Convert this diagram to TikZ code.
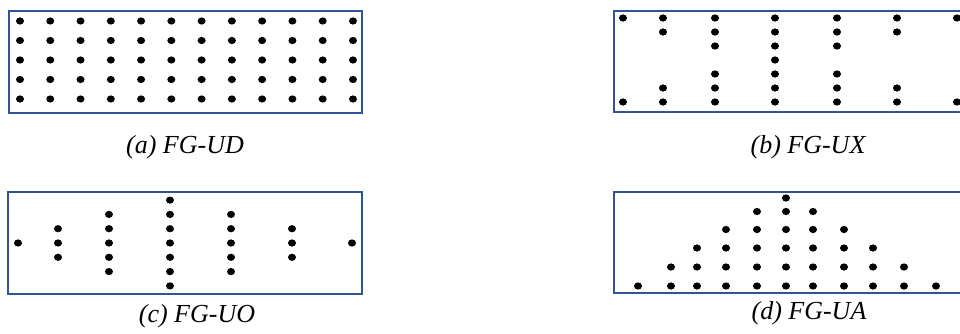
\documentclass[tikz,border=0pt]{standalone}
\usepackage{fontspec}
\setmainfont{Liberation Serif}
\definecolor{frameblue}{RGB}{47,85,151}
\newcommand{\bdot}[1]{\fill #1 ellipse [x radius=4pt, y radius=3.6pt];}

\begin{document}
\begin{tikzpicture}[x=1pt, y=-1pt,
      frm/.style={draw=frameblue, line width=2.6pt},
      capt/.style={font=\fontsize{26}{30}\selectfont\itshape, anchor=base}
    ]
    \useasboundingbox (0,0) rectangle (960,334);
    \clip (0,0) rectangle (960,334);

    % (a) uniform grid
    \draw[frm] (9,11) rectangle (362,113);
    \foreach \i in {0,...,11}
      \foreach \j in {0,...,4}
        {\bdot{({20+30.27*\i},{21+19.5*\j})}}
    \node[capt] (capa) at (185,153) {(a) FG-UD};

    % (b) X shape
    \draw[frm] (614,11) rectangle (980,112);
    \foreach \x/\rws in {623/{0,6}, 663/{0,1,5,6}, 715/{0,1,2,4,5,6},
                         775/{0,1,2,3,4,5,6}, 837/{0,1,2,4,5,6},
                         897/{0,1,5,6}, 957/{0,6}}
      \foreach \k in \rws
        {\bdot{(\x,{18+14*\k})}}
    \node[capt] (capb) at (808,153) {(b) FG-UX};

    % (c) O shape
    \draw[frm] (8,192) rectangle (362,294);
    \foreach \x/\rws in {18/{3}, 58/{2,3,4}, 109/{1,2,3,4,5},
                         170/{0,1,2,3,4,5,6}, 231/{1,2,3,4,5},
                         292/{2,3,4}, 352/{3}}
      \foreach \k in \rws
        {\bdot{(\x,{200.1+14.3*\k})}}
    \node[capt] (capc) at (197,322) {(c) FG-UO};

    % (d) A shape
    \draw[frm] (614,192) rectangle (980,293);
    \foreach \x/\n in {638/0, 671/1, 697/2, 726/3, 757/4, 786/5,
                       813/4, 844/3, 873/2, 904/1, 936/0}
      \foreach \k in {0,...,\n}
        {\pgfmathsetmacro\yy{{286,267,248,229.5,211.5,198}[\k]}
         \bdot{(\x,\yy)}}
    \node[capt] (capd) at (809,319) {(d) FG-UA};
  \end{tikzpicture}
\end{document}
